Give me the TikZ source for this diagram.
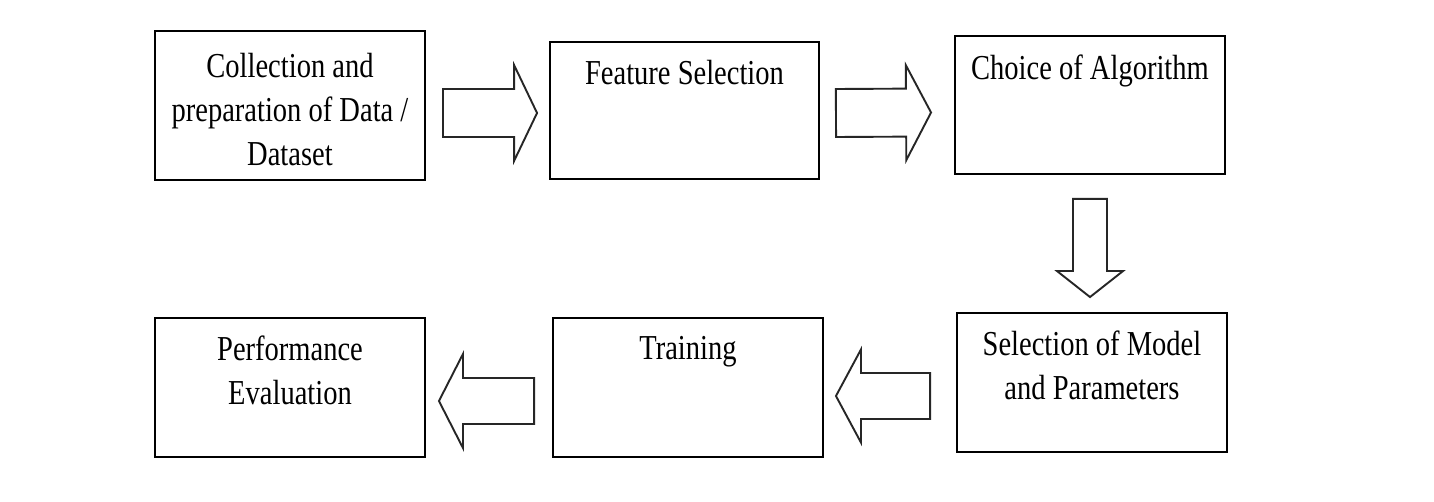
\documentclass[tikz,border=0pt]{standalone}
\usepackage{fontspec}
\setmainfont{Liberation Serif}[FakeStretch=0.815]
\usetikzlibrary{calc}
\newcommand\blockarr[5]{% #1 start, #2 tip, #3 half body, #4 half head, #5 head length
  \coordinate (hbx) at ($(#2)!#5!(#1)$);
  \draw[blkarrow] ($(#1)!#3!90:(#2)$) -- ($(hbx)!#3!-90:(#1)$) -- ($(hbx)!#4!-90:(#1)$)
    -- (#2) -- ($(hbx)!#4!90:(#1)$) -- ($(hbx)!#3!90:(#1)$) -- ($(#1)!#3!-90:(#2)$) -- cycle;}
\begin{document}
\begin{tikzpicture}[x=1pt,y=-1pt,
  stepbox/.style={draw=black, line width=1.9pt, inner sep=0pt, fill=white},
  txt/.style={inner sep=0pt, anchor=north, align=center,
    font=\fontsize{35}{44}\selectfont},
  blkarrow/.style={draw=black!85, line width=1.9pt, line join=miter, fill=white}]
\useasboundingbox[fill=white] (0,0) rectangle (1434,502);
% boxes
\node[stepbox, minimum width=270pt, minimum height=149pt] (b1) at (290,105.5) {};
\node[stepbox, minimum width=269pt, minimum height=137pt] (b2) at (684.5,110.5) {};
\node[stepbox, minimum width=270pt, minimum height=138pt] (b3) at (1090,105) {};
\node[stepbox, minimum width=270pt, minimum height=139pt] (b4) at (290,387.5) {};
\node[stepbox, minimum width=270pt, minimum height=139pt] (b5) at (688,387.5) {};
\node[stepbox, minimum width=270pt, minimum height=139pt] (b6) at (1092,382.5) {};
% texts
\node[txt] (t1) at ($(b1.north)+(0,23)$) {Collection and\\preparation of Data /\\Dataset};
\node[txt] (t2) at ($(b2.north)+(0,19)$) {Feature Selection};
\node[txt] (t3) at ($(b3.north)+(0,20)$) {Choice of Algorithm};
\node[txt] (t4) at ($(b4.north)+(0,19)$) {Performance\\Evaluation};
\node[txt] (t5) at ($(b5.north)+(0,19)$) {Training};
\node[txt] (t6) at ($(b6.north)+(0,19)$) {Selection of Model\\and Parameters};
% arrow end points
\coordinate (a1s) at ($(b1.east)+(17,7.5)$);
\coordinate (a1t) at ($(b2.west)+(-12,2.5)$);
\coordinate (a2s) at ($(b2.east)+(16,2.5)$);
\coordinate (a2t) at ($(b3.west)+(-23,7.5)$);
\coordinate (a3s) at ($(b3.south)+(0,24)$);
\coordinate (a3t) at ($(b6.north)+(-2,-15)$);
\coordinate (a4s) at ($(b6.west)+(-26,13.5)$);
\coordinate (a4t) at ($(b5.east)+(12,8.5)$);
\coordinate (a5s) at ($(b5.west)+(-18,13.5)$);
\coordinate (a5t) at ($(b4.east)+(13,13.5)$);
% block arrows
\blockarr{a1s}{a1t}{24pt}{48pt}{23pt}
\blockarr{a2s}{a2t}{24pt}{47.5pt}{25pt}
\blockarr{a3s}{a3t}{17pt}{33pt}{26pt}
\blockarr{a4s}{a4t}{23pt}{46.5pt}{25pt}
\blockarr{a5s}{a5t}{23pt}{47pt}{24pt}
\end{tikzpicture}
\end{document}
